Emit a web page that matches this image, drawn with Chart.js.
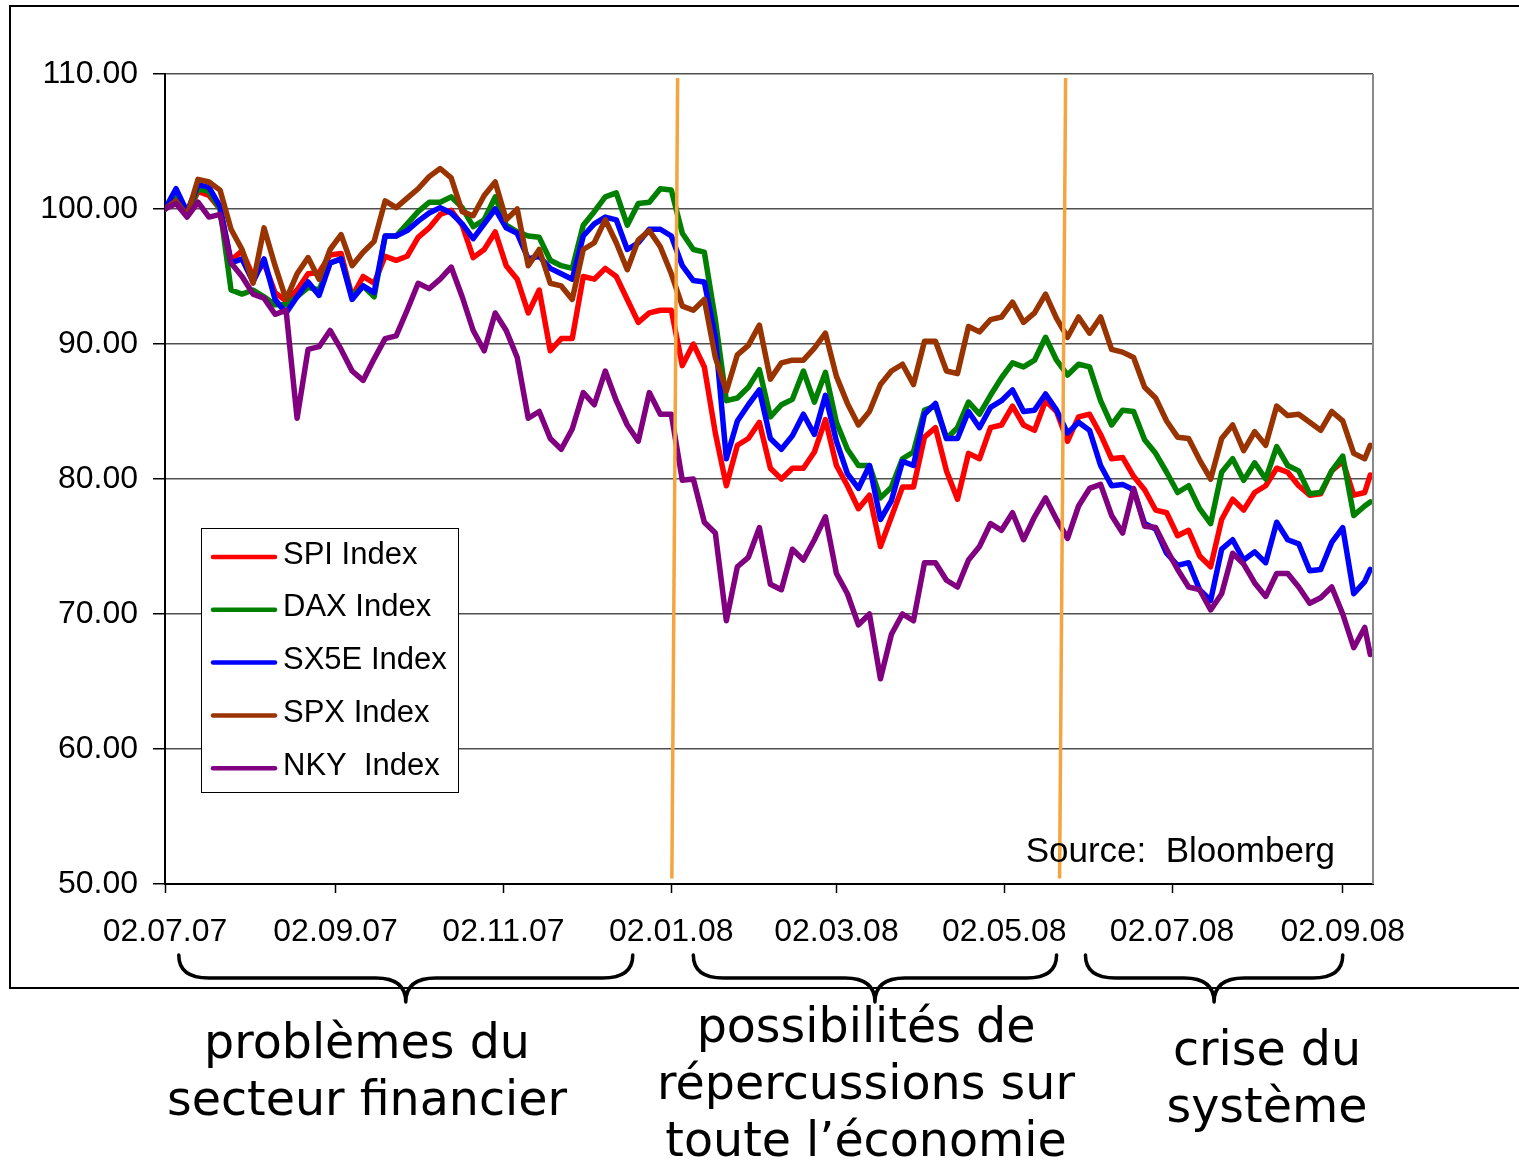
<!DOCTYPE html>
<html>
<head>
<meta charset="utf-8">
<script src="https://cdn.jsdelivr.net/npm/chart.js@4.4.0/dist/chart.umd.min.js"></script>
<style>
  html, body { margin: 0; padding: 0; background: #fff; }
  #wrap { position: relative; width: 1519px; height: 1163px; overflow: hidden; }
  #chart { position: absolute; left: 0; top: 0; }
  .cap { position: absolute; font-family: "DejaVu Sans", Verdana, sans-serif; font-size: 47.5px;
         line-height: 57px; text-align: center; white-space: nowrap; color: #000; }
</style>
</head>
<body>
<div id="wrap">
  <canvas id="chart" width="1519" height="1163"></canvas>
  <div class="cap" style="left:117px; width:500px; top:1013px;">problèmes du<br>secteur financier</div>
  <div class="cap" style="left:616px; width:500px; top:997px;">possibilités de<br>répercussions sur<br>toute l’économie</div>
  <div class="cap" style="left:1067px; width:400px; top:1020px;">crise du<br>système</div>
</div>
<script>
// days since 02.07.07
const days = [
  0, 4, 8, 12, 16, 20, 24, 28, 32, 36,
  40, 44, 48, 52, 56, 60, 64, 68, 72, 76,
  80, 84, 88, 92, 96, 100, 104, 108, 112, 116,
  120, 124, 128, 132, 136, 140, 144, 148, 152, 156,
  160, 164, 168, 172, 176, 180, 184, 188, 192, 196,
  200, 204, 208, 212, 216, 220, 224, 228, 232, 236,
  240, 244, 248, 252, 256, 260, 264, 268, 272, 276,
  280, 284, 288, 292, 296, 300, 304, 308, 312, 316,
  320, 324, 328, 332, 336, 340, 344, 348, 352, 356,
  360, 364, 368, 372, 376, 380, 384, 388, 392, 396,
  400, 404, 408, 412, 416, 420, 424, 428, 432, 436,
  438
];

const spi = [
  100.0, 100.8, 99.6, 101.3, 101.0, 100.0, 96.2, 96.9, 95.0, 96.0,
  93.8, 93.2, 94.0, 95.2, 95.3, 96.6, 96.7, 93.5, 95.0, 94.5,
  96.5, 96.2, 96.5, 97.9, 98.6, 99.6, 99.9, 98.8, 96.4, 97.0,
  98.3, 95.8, 94.8, 92.3, 94.0, 89.5, 90.4, 90.4, 95.0, 94.8,
  95.6, 95.0, 93.3, 91.6, 92.3, 92.5, 92.5, 88.4, 90.0, 88.3,
  83.4, 79.5, 82.5, 83.0, 84.2, 80.8, 80.0, 80.8, 80.8, 82.0,
  84.4, 81.0, 79.5, 77.8, 78.8, 75.0, 77.2, 79.4, 79.4, 83.1,
  83.8, 80.6, 78.5, 81.9, 81.5, 83.8, 84.0, 85.4, 84.0, 83.6,
  85.8, 85.0, 82.8, 84.6, 84.8, 83.3, 81.5, 81.6, 80.2, 79.2,
  77.7, 77.5, 75.8, 76.2, 74.3, 73.5, 77.0, 78.5, 77.7, 79.0,
  79.5, 80.8, 80.5, 79.5, 78.8, 78.9, 80.6, 81.3, 78.8, 79.0,
  80.3
];

const dax = [
  100.0, 101.2, 99.6, 101.5, 101.3, 100.0, 94.0, 93.7, 94.0, 93.5,
  92.9, 92.9, 93.5, 94.2, 94.0, 96.0, 96.3, 93.5, 94.3, 93.5,
  98.0, 98.0, 98.9, 99.8, 100.5, 100.5, 100.9, 100.1, 98.7, 99.2,
  100.9, 98.8, 98.3, 98.0, 97.9, 96.2, 95.8, 95.6, 98.8, 99.8,
  100.9, 101.2, 98.8, 100.4, 100.5, 101.5, 101.4, 98.2, 97.0, 96.8,
  91.8, 85.8, 86.0, 86.8, 88.1, 84.6, 85.5, 85.9, 88.0, 85.7,
  87.9, 84.2, 82.2, 81.0, 81.0, 78.6, 79.4, 81.5, 82.0, 85.1,
  85.4, 83.0, 83.8, 85.7, 84.8, 86.2, 87.5, 88.6, 88.3, 88.8,
  90.5, 88.8, 87.7, 88.5, 88.3, 85.8, 84.0, 85.1, 85.0, 82.9,
  81.9, 80.5, 79.0, 79.5, 77.8, 76.7, 80.5, 81.5, 79.9, 81.2,
  80.0, 82.4, 81.0, 80.6, 78.9, 79.0, 80.6, 81.7, 77.3, 78.0,
  78.3
];

const sx5e = [
  100.0, 101.5, 99.8, 101.8, 101.6, 100.2, 96.0, 96.3, 94.6, 96.3,
  93.3, 92.3, 93.5, 94.6, 93.6, 96.0, 96.3, 93.3, 94.3, 93.8,
  98.0, 98.0, 98.4, 99.1, 99.7, 100.1, 99.7, 98.9, 97.8, 98.9,
  100.0, 98.6, 98.2, 96.3, 96.5, 95.6, 95.2, 94.8, 98.0, 98.9,
  99.4, 99.2, 97.0, 97.5, 98.5, 98.5, 98.0, 95.8, 94.7, 94.6,
  90.5, 81.5, 84.3, 85.5, 86.6, 83.0, 82.2, 83.2, 84.8, 83.3,
  86.2, 82.8, 80.4, 79.3, 81.0, 77.0, 78.4, 81.3, 81.0, 84.8,
  85.6, 83.0, 83.0, 85.0, 83.8, 85.3, 85.8, 86.6, 85.0, 85.1,
  86.3, 85.1, 83.4, 84.2, 83.6, 81.0, 79.5, 79.6, 79.2, 76.7,
  76.3, 74.5, 73.6, 73.8, 71.8, 71.0, 74.8, 75.5, 74.0, 74.6,
  73.8, 76.8, 75.5, 75.2, 73.2, 73.3, 75.3, 76.4, 71.5, 72.4,
  73.3
];

const spx = [
  100.0, 100.6, 99.5, 102.2, 102.0, 101.4, 98.5, 97.0, 94.5, 98.6,
  95.8, 93.3, 95.2, 96.4, 94.8, 97.0, 98.1, 95.8, 96.8, 97.6,
  100.6, 100.1, 100.8, 101.5, 102.4, 103.0, 102.3, 99.8, 99.5, 101.0,
  102.0, 99.2, 100.0, 95.8, 97.0, 94.5, 94.3, 93.3, 97.0, 97.5,
  99.2, 97.5, 95.5, 97.7, 98.4, 97.2, 95.2, 92.8, 92.5, 93.3,
  89.0, 86.5, 89.2, 89.9, 91.4, 87.4, 88.6, 88.8, 88.8, 89.7,
  90.8, 87.6, 85.6, 84.0, 85.0, 87.0, 88.0, 88.5, 87.0, 90.2,
  90.2, 88.0, 87.8, 91.3, 90.9, 91.8, 92.0, 93.1, 91.6, 92.3,
  93.7, 91.9, 90.5, 92.0, 90.8, 92.0, 89.6, 89.4, 89.0, 86.8,
  86.0, 84.3, 83.1, 83.0, 81.4, 80.0, 83.0, 84.0, 82.1, 83.5,
  82.5, 85.4, 84.7, 84.8, 84.2, 83.6, 85.0, 84.3, 81.9, 81.5,
  82.5
];

const nky = [
  100.0, 100.4, 99.4, 100.5, 99.4, 99.6, 96.0, 95.0, 93.7, 93.4,
  92.2, 92.5, 84.5, 89.6, 89.8, 91.0, 89.6, 88.0, 87.3, 88.9,
  90.4, 90.6, 92.5, 94.5, 94.1, 94.8, 95.7, 93.5, 91.0, 89.5,
  92.3, 91.0, 89.0, 84.5, 85.0, 83.0, 82.2, 83.7, 86.4, 85.5,
  88.0, 85.8, 84.0, 82.8, 86.4, 84.8, 84.8, 79.9, 80.0, 76.8,
  76.0, 69.5, 73.5, 74.2, 76.4, 72.2, 71.8, 74.8, 74.0, 75.5,
  77.2, 73.0, 71.5, 69.2, 70.0, 65.2, 68.5, 70.0, 69.5, 73.8,
  73.8, 72.5, 72.0, 74.0, 75.0, 76.7, 76.2, 77.5, 75.5, 77.2,
  78.6, 77.0, 75.6, 78.0, 79.3, 79.6, 77.3, 76.0, 79.3, 76.5,
  76.4, 74.8, 73.3, 72.0, 71.8, 70.3, 71.5, 74.5, 73.7, 72.3,
  71.3, 73.0, 73.0, 72.0, 70.8, 71.2, 72.0, 70.0, 67.5, 69.0,
  67.0
];

const seriesNames = ['SPI Index', 'DAX Index', 'SX5E Index', 'SPX Index', 'NKY  Index'];
const seriesColors = ['#ff0000', '#008000', '#0000ff', '#993300', '#800080'];

const tickDays = [0, 62, 123, 184, 244, 305, 366, 428];
const tickLabels = ['02.07.07', '02.09.07', '02.11.07', '02.01.08', '02.03.08', '02.05.08', '02.07.08', '02.09.08'];

// orange phase separators: [day at top, day at bottom]
const dividers = [[186.3, 184.2], [327.3, 325.1]];
const dividerTop = 109.7, dividerBottom = 50.4;

// curly braces under the axis, in days
const braces = [[5, 170], [192, 324], [334.5, 428]];

const FONT = '"Liberation Sans", Arial, sans-serif';

const toPts = arr => days.map((d, i) => ({ x: d, y: arr[i] }));

const datasets = [spi, dax, sx5e, spx, nky].map((arr, i) => ({
  label: seriesNames[i],
  data: toPts(arr),
  borderColor: seriesColors[i],
  borderWidth: 5.5,
  pointRadius: 0,
  tension: 0,
  borderJoinStyle: 'round',
  borderCapStyle: 'round',
  order: 5 - i
}));

dividers.forEach(d => {
  datasets.push({
    label: '_divider',
    data: [{ x: d[0], y: dividerTop }, { x: d[1], y: dividerBottom }],
    borderColor: '#f4a53f',
    borderWidth: 3.5,
    pointRadius: 0,
    order: 0,
    clip: false
  });
});

const framePlugin = {
  id: 'frame',
  beforeDraw(chart) {
    const ctx = chart.ctx;
    ctx.save();
    ctx.fillStyle = '#fff';
    ctx.fillRect(0, 0, chart.width, chart.height);
    ctx.strokeStyle = '#000';
    ctx.lineWidth = 2;
    ctx.strokeRect(10, 6, 1700, 982);
    ctx.restore();
  },
  afterDraw(chart) {
    const ctx = chart.ctx;
    const a = chart.chartArea;
    const xs = chart.scales.x;
    ctx.save();
    // right border of plot
    ctx.strokeStyle = '#8a8a8a';
    ctx.lineWidth = 2;
    ctx.beginPath();
    ctx.moveTo(a.right, a.top);
    ctx.lineTo(a.right, a.bottom);
    ctx.stroke();

    // legend
    const lx = a.left + 36, ly = a.top + 454, lw = 257, lh = 264;
    ctx.fillStyle = '#fff';
    ctx.fillRect(lx, ly, lw, lh);
    ctx.strokeStyle = '#000';
    ctx.lineWidth = 1;
    ctx.strokeRect(lx + 0.5, ly + 0.5, lw, lh);
    ctx.font = '31px ' + FONT;
    ctx.textBaseline = 'middle';
    ctx.textAlign = 'left';
    chart.data.datasets.filter(d => d.label !== '_divider').forEach((d, i) => {
      const y = ly + 29 + i * 52.8;
      ctx.strokeStyle = d.borderColor;
      ctx.lineWidth = 4.5;
      ctx.lineCap = 'round';
      ctx.beginPath();
      ctx.moveTo(lx + 12, y);
      ctx.lineTo(lx + 74, y);
      ctx.stroke();
      ctx.fillStyle = '#000';
      ctx.fillText(d.label, lx + 82, y - 2);
    });

    // source
    ctx.font = '35px ' + FONT;
    ctx.textAlign = 'right';
    ctx.textBaseline = 'alphabetic';
    ctx.fillStyle = '#000';
    ctx.fillText('Source:  Bloomberg', a.right - 38, a.bottom - 22);

    // braces
    const yTop = a.bottom + 71, yH = a.bottom + 94, yTip = a.bottom + 118;
    ctx.strokeStyle = '#000';
    ctx.lineWidth = 3.5;
    ctx.lineCap = 'round';
    braces.forEach(b => {
      const x1 = xs.getPixelForValue(b[0]);
      const x2 = xs.getPixelForValue(b[1]);
      const m = (x1 + x2) / 2;
      const r = 30;
      ctx.beginPath();
      ctx.moveTo(x1, yTop);
      ctx.quadraticCurveTo(x1, yH, x1 + r, yH);
      ctx.lineTo(m - r, yH);
      ctx.quadraticCurveTo(m, yH, m, yTip);
      ctx.moveTo(m, yTip);
      ctx.quadraticCurveTo(m, yH, m + r, yH);
      ctx.lineTo(x2 - r, yH);
      ctx.quadraticCurveTo(x2, yH, x2, yTop);
      ctx.stroke();
    });
    ctx.restore();
  }
};

new Chart(document.getElementById('chart'), {
  type: 'line',
  data: { datasets },
  options: {
    responsive: false,
    animation: false,
    devicePixelRatio: 1,
    layout: { padding: { left: 0, right: 146, top: 74, bottom: 209 } },
    plugins: { legend: { display: false }, tooltip: { enabled: false } },
    scales: {
      x: {
        type: 'linear',
        min: 0,
        max: 439,
        afterFit: s => { s.height = 70; },
        afterBuildTicks: s => { s.ticks = tickDays.map(v => ({ value: v })); },
        ticks: {
          callback: v => tickLabels[tickDays.indexOf(v)] || '',
          font: { family: FONT, size: 32 },
          color: '#000',
          padding: 20,
          maxRotation: 0,
          autoSkip: false
        },
        grid: { drawOnChartArea: false, tickLength: 9, tickColor: '#000', tickWidth: 1.5 },
        border: { color: '#000', width: 2 }
      },
      y: {
        min: 50,
        max: 110,
        afterFit: s => { s.width = 165; },
        ticks: {
          stepSize: 10,
          callback: v => v.toFixed(2),
          font: { family: FONT, size: 32 },
          color: '#000',
          padding: 15
        },
        grid: { color: '#505050', lineWidth: 1.5, tickLength: 12, tickColor: '#000' },
        border: { color: '#000', width: 2 }
      }
    }
  },
  plugins: [framePlugin]
});
</script>
</body>
</html>
